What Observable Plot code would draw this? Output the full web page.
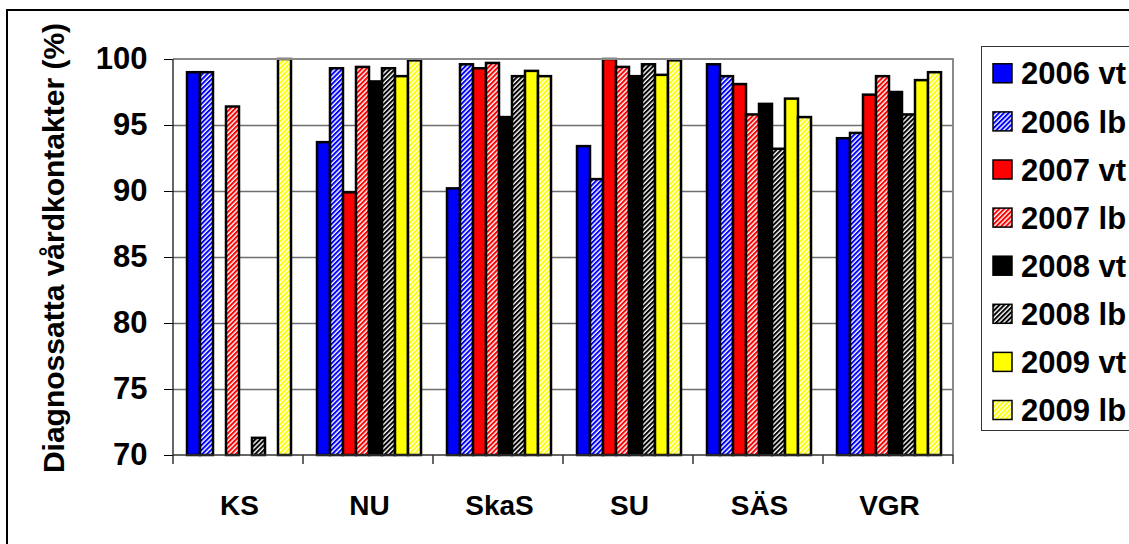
<!DOCTYPE html>
<html><head><meta charset="utf-8">
<script src="https://cdn.jsdelivr.net/npm/d3@7"></script>
<script src="https://cdn.jsdelivr.net/npm/@observablehq/plot@0.6"></script>
<style>
html,body{margin:0;padding:0;background:#fff;}
#chart svg{display:block;}
#chart g[aria-label^="y-axis"] text{font-size:31px;font-weight:bold;fill:#000;}
#chart g[aria-label^="fx-axis"] text{font-size:28px;font-weight:bold;fill:#000;}
</style></head><body><div id="chart"></div>
<script>
// ---- data ----
const categories = ["KS", "NU", "SkaS", "SU", "SÄS", "VGR"];
const seriesNames = ["2006 vt", "2006 lb", "2007 vt", "2007 lb", "2008 vt", "2008 lb", "2009 vt", "2009 lb"];
const seriesColors = ["#0000ff", "#0000ff", "#ff0000", "#ff0000", "#000000", "#000000", "#ffff00", "#ffff00"];
const seriesHatched = [false, true, false, true, false, true, false, true];
const s2006vt = [99.0, 93.7, 90.2, 93.4, 99.6, 94.0];
const s2006lb = [99.0, 99.3, 99.6, 90.9, 98.7, 94.4];
const s2007vt = [null, 89.9, 99.3, 100.0, 98.1, 97.3];
const s2007lb = [96.4, 99.4, 99.7, 99.4, 95.8, 98.7];
const s2008vt = [null, 98.3, 95.6, 98.7, 96.6, 97.5];
const s2008lb = [71.3, 99.3, 98.7, 99.6, 93.2, 95.8];
const s2009vt = [null, 98.7, 99.1, 98.8, 97.0, 98.4];
const s2009lb = [100.0, 99.9, 98.7, 99.9, 95.6, 99.0];
const yTicks = [70, 75, 80, 85, 90, 95, 100];
const yTitle = "Diagnossatta vårdkontakter (%)";

const seriesValues = [s2006vt, s2006lb, s2007vt, s2007lb, s2008vt, s2008lb, s2009vt, s2009lb];
const rows = [];
categories.forEach((c, ci) => {
  seriesNames.forEach((s, si) => {
    const v = seriesValues[si][ci];
    if (v != null) rows.push({category: c, series: s, value: v});
  });
});
const yMin = yTicks[0], yMax = yTicks[yTicks.length - 1];
const fills = seriesNames.map((s, i) => seriesHatched[i] ? `url(#hatch-${i})` : seriesColors[i]);

const W = 1129, H = 544;
const plot = Plot.plot({
  width: W, height: H,
  marginLeft: 173, marginRight: 175, marginTop: 59, marginBottom: 89,
  style: {fontFamily: 'Arial, "Liberation Sans", sans-serif', fontWeight: "bold", background: "white", color: "black", overflow: "visible"},
  fx: {domain: categories, padding: 0, tickSize: 0, tickPadding: 40, label: null},
  x: {domain: seriesNames, paddingInner: 0, paddingOuter: 0.735, axis: null},
  y: {domain: [yMin, yMax], ticks: yTicks, tickSize: 10, tickPadding: 17, label: null, tickFormat: d => String(d)},
  color: {domain: seriesNames, range: fills},
  marks: [
    Plot.ruleY(yTicks.filter(v => v > yMin && v < yMax), {stroke: "#6e6e6e", strokeWidth: 1.5}),
    Plot.barY(rows, {fx: "category", x: "series", y1: () => yMin, y2: "value", fill: "series", stroke: "black", strokeWidth: 2.5})
  ]
});
document.getElementById("chart").appendChild(plot);

const svg = d3.select(plot);
// patterns
const defs = svg.insert("defs", ":first-child");
seriesNames.forEach((s, i) => {
  if (!seriesHatched[i]) return;
  const p = defs.append("pattern").attr("id", `hatch-${i}`).attr("patternUnits", "userSpaceOnUse")
    .attr("width", 3.4).attr("height", 3.4).attr("patternTransform", "rotate(45)");
  p.append("rect").attr("width", 3.4).attr("height", 3.4).attr("fill", "white");
  p.append("rect").attr("width", 2.0).attr("height", 3.4).attr("fill", seriesColors[i]);
});

// scales
let yS;
try { const sc = plot.scale("y"); yS = v => sc.apply(v); } catch (e) { yS = d3.scaleLinear([yMin, yMax], [H - 89, 59]); }
let fxLeft, fxStep;
try { const f = plot.scale("fx"); fxLeft = f.range[0]; fxStep = f.step || f.bandwidth; } catch (e) { fxLeft = 173; fxStep = (W - 175 - 173) / categories.length; }
const xL = fxLeft, xR = fxLeft + fxStep * categories.length;
const yTop = yS(yMax), yBot = yS(yMin);

const g = svg.append("g");
// plot area border (top, right)
g.append("path").attr("d", `M${xL},${yTop}H${xR}V${yBot}`).attr("fill", "none").attr("stroke", "#8a8a8a").attr("stroke-width", 2);
// axes
g.append("line").attr("x1", xL).attr("x2", xL).attr("y1", yTop).attr("y2", yBot).attr("stroke", "#333").attr("stroke-width", 1.5);
g.append("line").attr("x1", xL).attr("x2", xR).attr("y1", yBot).attr("y2", yBot).attr("stroke", "#333").attr("stroke-width", 1.5);
d3.range(categories.length + 1).forEach(i => {
  const x = xL + i * fxStep;
  g.append("line").attr("x1", x).attr("x2", x).attr("y1", yBot).attr("y2", yBot + 9).attr("stroke", "#333").attr("stroke-width", 1.5);
});
// outer frame
g.append("path").attr("d", `M7,${H}V10H${W}`).attr("fill", "none").attr("stroke", "black").attr("stroke-width", 2);
// y title
g.append("text").attr("transform", `translate(64,248) rotate(-90)`).attr("text-anchor", "middle")
  .attr("font-size", 30).attr("font-weight", "bold").attr("fill", "black").text(yTitle);
// legend
const lg = svg.append("g").attr("text-anchor", "start");
lg.append("rect").attr("x", 981.5).attr("y", 46.5).attr("width", 200).attr("height", 384)
  .attr("fill", "white").attr("stroke", "#333").attr("stroke-width", 1);
seriesNames.forEach((s, i) => {
  const cy = 73.3 + i * 48.1;
  lg.append("rect").attr("x", 993).attr("y", cy - 9.5).attr("width", 19).attr("height", 19)
    .attr("fill", fills[i]).attr("stroke", "black").attr("stroke-width", 1.5);
  lg.append("text").attr("x", 1021).attr("y", cy).attr("dy", "0.36em").attr("font-size", 31)
    .attr("text-anchor", "start").attr("font-weight", "bold").attr("fill", "black").text(s);
});
</script></body></html>
